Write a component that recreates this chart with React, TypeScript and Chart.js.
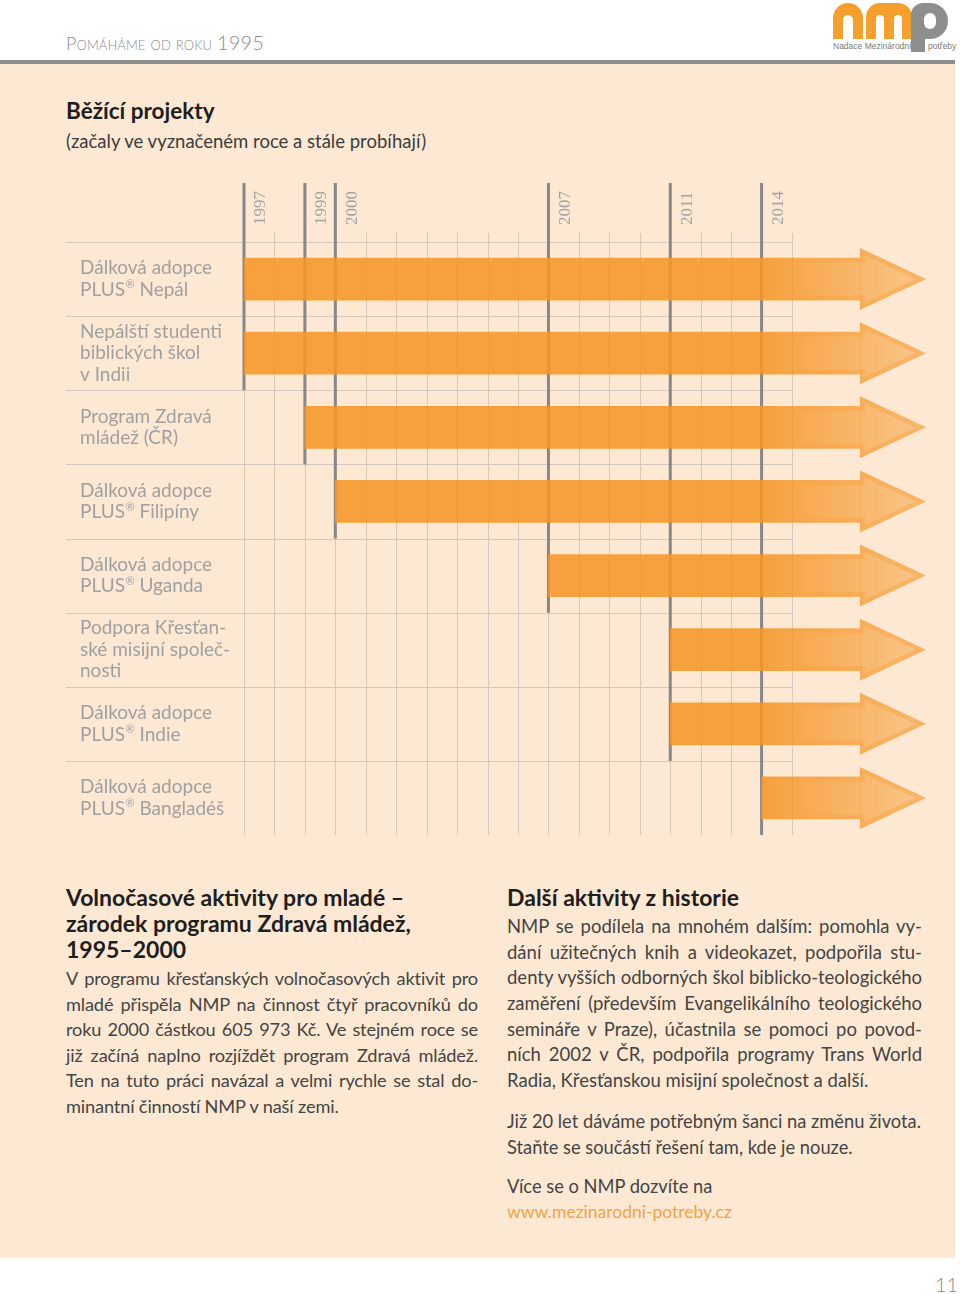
import React, { useEffect, useRef } from "react";
import { Chart, registerables } from "chart.js";

Chart.register(...registerables);

// ---------- data ----------
const projectLabels: string[][] = [
  ["Dálková adopce", "PLUS® Nepál"],
  ["Nepálští studenti", "biblických škol", "v Indii"],
  ["Program Zdravá", "mládež (ČR)"],
  ["Dálková adopce", "PLUS® Filipíny"],
  ["Dálková adopce", "PLUS® Uganda"],
  ["Podpora Křesťan-", "ské misijní společ-", "nosti"],
  ["Dálková adopce", "PLUS® Indie"],
  ["Dálková adopce", "PLUS® Bangladéš"],
];
const startYears: number[] = [1997, 1997, 1999, 2000, 2007, 2011, 2011, 2014];
const yearTicks: number[] = [1997, 1999, 2000, 2007, 2011, 2014];
const gridFirstYear = 1997;
const gridLastYear = 2015;
const fadeFromYear = 2014;
const arrowBodyEnd = 2017.23;
const arrowTip = 2019.4;

// ---------- styles ----------
const ORANGE = "245,150,40";
const LABEL_FONT = "Lato, 'Open Sans', sans-serif";

function makeGradient(chart: any) {
  const { ctx, chartArea, scales } = chart;
  if (!chartArea || !scales.x) return `rgba(${ORANGE},0.88)`;
  const x0 = scales.x.getPixelForValue(fadeFromYear);
  const x1 = scales.x.getPixelForValue(arrowTip);
  const g = ctx.createLinearGradient(x0, 0, x1, 0);
  g.addColorStop(0, `rgba(${ORANGE},0.88)`);
  g.addColorStop(1, `rgba(${ORANGE},0.42)`);
  return g;
}

const timelinePlugin = {
  id: "timeline",
  beforeDatasetsDraw(chart: any) {
    const { ctx, chartArea, scales } = chart;
    const xs = scales.x;
    const ys = scales.y;
    const rowH = (chartArea.bottom - chartArea.top) / startYears.length;
    ctx.save();
    // thin vertical grid lines
    ctx.strokeStyle = "#d6c8ba";
    ctx.lineWidth = 1;
    for (let yr = gridFirstYear; yr <= gridLastYear; yr++) {
      const x = Math.round(xs.getPixelForValue(yr)) + 0.5;
      ctx.beginPath();
      ctx.moveTo(x, chartArea.top - 9);
      ctx.lineTo(x, chartArea.bottom);
      ctx.stroke();
    }
    // horizontal row lines
    const xEnd = xs.getPixelForValue(gridLastYear);
    for (let i = 0; i < startYears.length; i++) {
      const y = Math.round(ys.getPixelForValue(i) - rowH / 2) + 0.5;
      ctx.beginPath();
      ctx.moveTo(66, y);
      ctx.lineTo(xEnd, y);
      ctx.stroke();
    }
    // thick year lines
    ctx.strokeStyle = "#878787";
    ctx.lineWidth = 3;
    yearTicks.forEach((yr) => {
      let last = -1;
      startYears.forEach((s, i) => {
        if (s === yr) last = i;
      });
      const x = xs.getPixelForValue(yr);
      const bottom = last >= 0 ? ys.getPixelForValue(last) + rowH / 2 : chartArea.bottom;
      ctx.beginPath();
      ctx.moveTo(x, 13);
      ctx.lineTo(x, bottom);
      ctx.stroke();
      // year label
      ctx.save();
      ctx.translate(x + 17, chartArea.top - 17);
      ctx.rotate(-Math.PI / 2);
      ctx.fillStyle = "#a3a3a3";
      ctx.font = "17px 'Liberation Serif', serif";
      ctx.textAlign = "left";
      ctx.textBaseline = "middle";
      ctx.fillText(String(yr), 0, 0);
      ctx.restore();
    });
    // row labels
    ctx.fillStyle = "#a0a0a0";
    ctx.textBaseline = "middle";
    ctx.textAlign = "left";
    const lh = 21.5;
    projectLabels.forEach((lines, i) => {
      const cy = ys.getPixelForValue(i);
      const y0 = cy - ((lines.length - 1) * lh) / 2;
      lines.forEach((line, j) => {
        const y = y0 + j * lh;
        const parts = line.split("®");
        let x = 80;
        ctx.font = `400 19px ${LABEL_FONT}`;
        ctx.fillText(parts[0], x, y);
        if (parts.length > 1) {
          x += ctx.measureText(parts[0]).width + 0.5;
          ctx.font = `400 11px ${LABEL_FONT}`;
          ctx.fillText("®", x, y - 5);
          x += ctx.measureText("®").width;
          ctx.font = `400 19px ${LABEL_FONT}`;
          ctx.fillText(parts[1], x, y);
        }
      });
    });
    ctx.restore();
  },
  afterDatasetsDraw(chart: any) {
    const { ctx, scales } = chart;
    const xs = scales.x;
    const meta = chart.getDatasetMeta(0);
    const grad = makeGradient(chart);
    const xb = xs.getPixelForValue(arrowBodyEnd);
    const xt = xs.getPixelForValue(arrowTip);
    const xf = xs.getPixelForValue(fadeFromYear);
    ctx.save();
    meta.data.forEach((bar: any) => {
      const cy = bar.y;
      const half = bar.height / 2;
      const headHalf = half + 10;
      // arrow head
      ctx.beginPath();
      ctx.moveTo(xb, cy - headHalf);
      ctx.lineTo(xt, cy);
      ctx.lineTo(xb, cy + headHalf);
      ctx.closePath();
      ctx.fillStyle = grad;
      ctx.fill();
      // inner outline of the arrow beyond the fade point
      ctx.save();
      ctx.beginPath();
      ctx.moveTo(Math.max(bar.base, xf), cy - half);
      ctx.lineTo(xb, cy - half);
      ctx.lineTo(xb, cy - headHalf);
      ctx.lineTo(xt, cy);
      ctx.lineTo(xb, cy + headHalf);
      ctx.lineTo(xb, cy + half);
      ctx.lineTo(Math.max(bar.base, xf), cy + half);
      ctx.clip();
      const og = ctx.createLinearGradient(xf, 0, xt, 0);
      og.addColorStop(0, `rgba(${ORANGE},0.0)`);
      og.addColorStop(0.4, `rgba(${ORANGE},0.25)`);
      og.addColorStop(1, `rgba(${ORANGE},0.35)`);
      ctx.strokeStyle = og;
      ctx.lineWidth = 9;
      ctx.lineJoin = "miter";
      ctx.stroke();
      ctx.restore();
    });
    ctx.restore();
  },
};

function TimelineChart() {
  const ref = useRef<HTMLCanvasElement | null>(null);
  useEffect(() => {
    if (!ref.current) return;
    const chart = new Chart(ref.current, {
      type: "bar",
      data: {
        labels: projectLabels.map((l) => l.join(" ")),
        datasets: [
          {
            data: startYears.map((s) => [s, arrowBodyEnd]) as any,
            backgroundColor: (c: any) => makeGradient(c.chart),
            borderWidth: 0,
            borderSkipped: false,
            barThickness: 42,
          },
        ],
      },
      options: {
        indexAxis: "y",
        animation: false,
        responsive: false,
        maintainAspectRatio: false,
        layout: { padding: { left: 244, right: 34, top: 72, bottom: 15 } },
        scales: {
          x: { type: "linear", min: gridFirstYear, max: arrowTip, display: false },
          y: { type: "category", display: false, offset: true },
        },
        plugins: { legend: { display: false }, tooltip: { enabled: false } },
      } as any,
      plugins: [timelinePlugin],
    });
    return () => chart.destroy();
  }, []);
  return (
    <canvas
      ref={ref}
      width={960}
      height={680}
      style={{ position: "absolute", left: 0, top: 170, width: 960, height: 680 }}
    />
  );
}

const BODY_FONT = "Lato, 'Open Sans', sans-serif";

function Lines({
  lines,
  left,
  top,
  width,
  lh,
  size,
  color,
  weight,
  justify,
  spacing,
}: {
  lines: string[];
  left: number;
  top: number;
  width: number;
  lh: number;
  size: number;
  color: string;
  weight?: number;
  justify?: boolean;
  spacing?: number;
}) {
  return (
    <div style={{ position: "absolute", left, top, width }}>
      {lines.map((t, i) => {
        const just = justify && i < lines.length - 1;
        return (
          <div
            key={i}
            style={{
              height: lh,
              lineHeight: `${lh}px`,
              fontSize: size,
              color,
              fontWeight: weight ?? 400,
              fontFamily: BODY_FONT,
              whiteSpace: "nowrap",
              letterSpacing: spacing ?? 0,
              textAlign: just ? "justify" : "left",
              textAlignLast: just ? "justify" : "left",
            }}
          >
            {t}
          </div>
        );
      })}
    </div>
  );
}

const LOGO_ORANGE = "#f5a02c";
const LOGO_GRAY = "#8e8e8e";

function Box(p: { l: number; t: number; w: number; h: number; bg: string; r?: string }) {
  return (
    <div
      style={{
        position: "absolute",
        left: p.l,
        top: p.t,
        width: p.w,
        height: p.h,
        background: p.bg,
        borderRadius: p.r ?? "0",
      }}
    />
  );
}

function Logo() {
  return (
    <>
      {/* n */}
      <Box l={833} t={3} w={30} h={36} bg={LOGO_ORANGE} r="15px 15px 0 0" />
      <Box l={843} t={15} w={10} h={24} bg="#fff" r="5px 5px 0 0" />
      {/* m */}
      <Box l={866} t={3} w={46} h={36} bg={LOGO_ORANGE} r="14px 14px 0 0" />
      <Box l={876} t={15} w={8} h={24} bg="#fff" r="4px 4px 0 0" />
      <Box l={894} t={15} w={8} h={24} bg="#fff" r="4px 4px 0 0" />
      {/* p */}
      <Box l={911} t={3} w={37} h={36} bg={LOGO_GRAY} r="12px 18px 18px 0" />
      <Box l={911} t={20} w={14} h={32} bg={LOGO_GRAY} />
      <Box l={924} t={13} w={12} h={16} bg="#fff" r="6px" />
      <div
        style={{
          position: "absolute",
          left: 833,
          top: 40,
          fontSize: 8.5,
          color: "#7a7a7a",
          fontFamily: "'Liberation Sans Narrow', 'Liberation Sans', sans-serif",
          lineHeight: "12px",
          whiteSpace: "nowrap",
        }}
      >
        Nadace Mezinárodní
      </div>
      <div
        style={{
          position: "absolute",
          left: 928,
          top: 40,
          fontSize: 8.5,
          color: "#7a7a7a",
          fontFamily: "'Liberation Sans Narrow', 'Liberation Sans', sans-serif",
          lineHeight: "12px",
          whiteSpace: "nowrap",
        }}
      >
        potřeby
      </div>
    </>
  );
}

export default function App() {
  return (
    <div
      style={{
        position: "absolute",
        left: 0,
        top: 0,
        width: 960,
        height: 1294,
        background: "#ffffff",
        overflow: "hidden",
        fontFamily: BODY_FONT,
      }}
    >
      {/* header */}
      <div
        style={{
          position: "absolute",
          left: 66,
          top: 30,
          fontSize: 18,
          color: "#8a8a8a",
          fontVariant: "small-caps",
          fontFamily: BODY_FONT,
          fontWeight: 300,
          letterSpacing: 0.1,
          lineHeight: "24px",
          whiteSpace: "nowrap",
        }}
      >
        Pomáháme od roku <span style={{ fontSize: 20 }}>1995</span>
      </div>
      <Logo />
      {/* rule + panel */}
      <div style={{ position: "absolute", left: 0, top: 60, width: 955, height: 4, background: "#8d8d8d" }} />
      <div style={{ position: "absolute", left: 0, top: 64, width: 955, height: 1194, background: "#fde9d3" }} />

      {/* titles */}
      <div
        style={{
          position: "absolute",
          left: 66,
          top: 97,
          fontSize: 22.5,
          fontWeight: 700,
          color: "#1e1e1e",
          lineHeight: "28px",
          fontFamily: BODY_FONT,
        }}
      >
        Běžící projekty
      </div>
      <div
        style={{
          position: "absolute",
          left: 66,
          top: 128,
          fontSize: 18.5,
          color: "#3c3c3c",
          lineHeight: "26px",
          fontFamily: BODY_FONT,
        }}
      >
        (začaly ve vyznačeném roce a stále probíhají)
      </div>

      <TimelineChart />

      {/* left column */}
      <Lines
        lines={["Volnočasové aktivity pro mladé –", "zárodek programu Zdravá mládež,", "1995–2000"]}
        left={66}
        top={884}
        width={430}
        lh={26}
        size={23}
        color="#1e1e1e"
        weight={700}
      />
      <Lines
        lines={[
          "V programu křesťanských volnočasových aktivit pro",
          "mladé přispěla NMP na činnost čtyř pracovníků do",
          "roku 2000 částkou 605 973 Kč. Ve stejném roce se",
          "již začíná naplno rozjíždět program Zdravá mládež.",
          "Ten na tuto práci navázal a velmi rychle se stal do-",
          "minantní činností NMP v naší zemi.",
        ]}
        left={66}
        top={966}
        width={412}
        lh={25.6}
        size={18.2}
        spacing={-0.15}
        color="#444444"
        justify
      />

      {/* right column */}
      <Lines
        lines={["Další aktivity z historie"]}
        left={507}
        top={884}
        width={420}
        lh={26}
        size={23}
        color="#1e1e1e"
        weight={700}
      />
      <Lines
        lines={[
          "NMP se podílela na mnohém dalším: pomohla vy-",
          "dání užitečných knih a videokazet, podpořila stu-",
          "denty vyšších odborných škol biblicko-teologického",
          "zaměření (především Evangelikálního teologického",
          "semináře v Praze), účastnila se pomoci po povod-",
          "ních 2002 v ČR, podpořila programy Trans World",
          "Radia, Křesťanskou misijní společnost a další.",
        ]}
        left={507}
        top={914}
        width={415}
        lh={25.7}
        size={18.5}
        color="#444444"
        justify
      />
      <Lines
        lines={["Již 20 let dáváme potřebným šanci na změnu života.", "Staňte se součástí řešení tam, kde je nouze."]}
        left={507}
        top={1108}
        width={415}
        lh={26}
        size={18.3}
        color="#444444"
      />
      <Lines lines={["Více se o NMP dozvíte na"]} left={507} top={1173} width={415} lh={26} size={18.3} color="#444444" />
      <Lines lines={["www.mezinarodni-potreby.cz"]} left={507} top={1199} width={415} lh={26} size={17.5} color="#eea447" />

      {/* page number */}
      <div
        style={{
          position: "absolute",
          left: 935,
          top: 1271,
          fontSize: 20,
          color: "#8a8a8a",
          fontFamily: BODY_FONT,
          fontWeight: 300,
          lineHeight: "26px",
        }}
      >
        11
      </div>
    </div>
  );
}
